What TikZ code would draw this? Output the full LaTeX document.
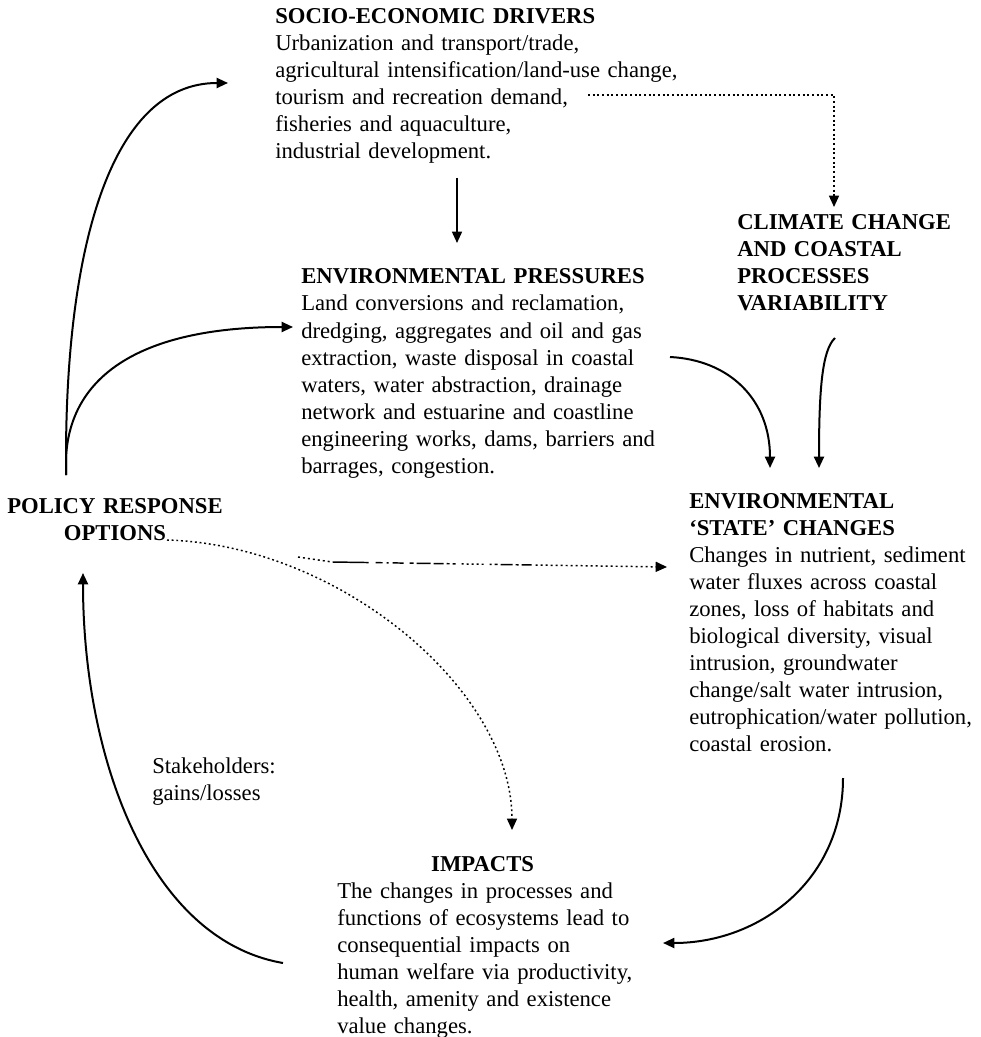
\documentclass[tikz,border=0pt]{standalone}
\usepackage{fontspec}
\setmainfont{Liberation Serif}
\usetikzlibrary{arrows.meta}
\newcommand\blocksize{\fontsize{17pt}{20.25pt}\selectfont}
\begin{document}
\begin{tikzpicture}[x=0.75pt,y=-0.75pt,
  txt/.style={font=\blocksize, inner sep=0pt, anchor=base west, align=left, text width=#1},
  tip/.style={-{Triangle[length=8.5pt,width=7.5pt]}},
  curve/.style={line width=1.5pt, tip},
  straight/.style={line width=1.2pt, tip},
  dotline/.style={line width=1.1pt, dash pattern=on 1.4pt off 2.1pt, tip},
  dashdot/.style={line width=1.1pt, tip, dash pattern=on 1.5pt off 2.25pt on 1.5pt off 2.25pt on 1.5pt off 2.25pt on 1.5pt off 2.25pt on 1.5pt off 2.25pt on 1.5pt off 2.25pt on 1.5pt off 2.25pt
    on 27pt off 5.25pt on 5.25pt off 3pt on 1.5pt off 3pt on 8.25pt off 4.5pt on 3pt off 2.25pt on 10.5pt off 2.25pt on 7.5pt off 2.25pt on 2.25pt off 2.25pt on 2.25pt off 4.5pt
    on 1.5pt off 2.25pt on 1.5pt off 2.25pt on 1.5pt off 2.25pt on 1.5pt off 2.25pt on 1.5pt off 4.5pt on 1.5pt off 2.25pt on 2.25pt off 2.25pt on 9pt off 2.25pt on 2.25pt off 2.25pt on 7.5pt off 3pt
    on 1.5pt off 2.25pt on 1.5pt off 2.25pt on 1.5pt off 2.25pt on 1.5pt off 2.25pt on 1.5pt off 2.25pt on 1.5pt off 2.25pt on 1.5pt off 2.25pt on 1.5pt off 2.25pt on 1.5pt off 2.25pt on 1.5pt off 2.25pt
    on 1.5pt off 2.25pt on 1.5pt off 2.25pt on 1.5pt off 2.25pt on 1.5pt off 2.25pt on 1.5pt off 2.25pt on 1.5pt off 2.25pt on 1.5pt off 2.25pt on 1.5pt off 2.25pt on 1.5pt off 2.25pt on 1.5pt off 2.25pt
    on 1.5pt off 2.25pt on 1.5pt off 2.25pt on 1.5pt off 2.25pt on 1.5pt off 2.25pt on 1.5pt off 2.25pt on 1.5pt off 2.25pt on 1.5pt off 2.25pt on 1.5pt off 2.25pt on 1.5pt off 2.25pt on 1.5pt off 2.25pt
    on 1.5pt off 2.25pt on 1.5pt off 2.25pt on 1.5pt off 2.25pt on 1.5pt off 2.25pt on 1.5pt off 2.25pt on 1.5pt off 2.25pt on 1.5pt off 2.25pt on 1.5pt off 2.25pt on 1.5pt off 2.25pt on 1.5pt off 2.25pt}
]
\fill[white] (0,0) rectangle (980,1037);
\useasboundingbox (0,0) rectangle (980,1037);

% text blocks
\node[txt=320pt] (socio) at (275,24) {\textbf{SOCIO-ECONOMIC DRIVERS}\\
Urbanization and transport/trade,\\
agricultural intensification/land-use change,\\
tourism and recreation demand,\\
fisheries and aquaculture,\\
industrial development.};

\node[txt=285pt] (press) at (301,284) {\textbf{ENVIRONMENTAL PRESSURES}\\
Land conversions and reclamation,\\
\makebox[269pt][s]{dredging, aggregates and oil and gas}\\
\makebox[269pt][s]{extraction, waste disposal in coastal}\\
\makebox[269pt][s]{waters, water abstraction, drainage}\\
\makebox[269pt][s]{network and estuarine and coastline}\\
\makebox[269pt][s]{engineering works, dams, barriers and}\\
barrages, congestion.};

\node[txt=180pt] (climate) at (737,230) {\textbf{CLIMATE CHANGE}\\
\textbf{AND COASTAL}\\
\textbf{PROCESSES}\\
\textbf{VARIABILITY}};

\node[txt=225pt] (state) at (689,508) {\textbf{ENVIRONMENTAL}\\
\textbf{`STATE' CHANGES}\\
Changes in nutrient, sediment\\
water fluxes across coastal\\
zones, loss of habitats and\\
biological diversity, visual\\
intrusion, groundwater\\
change/salt water intrusion,\\
eutrophication/water pollution,\\
coastal erosion.};

\node[font=\blocksize, inner sep=0pt, anchor=base, align=center, text width=170pt] (policy) at (115,513) {\textbf{POLICY RESPONSE}\\
\textbf{OPTIONS}};

\node[txt=120pt] (stake) at (152,773) {Stakeholders:\\gains/losses};

\node[txt=235pt] (impacts) at (337,871) {\makebox[218pt][c]{\textbf{IMPACTS}}\\
The changes in processes and\\
functions of ecosystems lead to\\
consequential impacts on\\
human welfare via productivity,\\
health, amenity and existence\\
value changes.};

% connector ends
\coordinate (pol-up) at (66,475);
\coordinate (socio-in) at (228,83);
\coordinate (press-in) at (293,327);
\coordinate (socio-out) at (457,178);
\coordinate (press-top) at (457,243);
\coordinate (socio-right) at (588,95);
\coordinate (climate-in) at (834,207);
\coordinate (press-out) at (670,357);
\coordinate (state-in1) at (770,468);
\coordinate (climate-out) at (835,338);
\coordinate (state-in2) at (819,468);
\coordinate (state-out) at (843,778);
\coordinate (impacts-in) at (663,943);
\coordinate (impacts-out) at (283,963);
\coordinate (policy-in) at (83,573);
\coordinate (policy-out) at (167,540);
\coordinate (impacts-top) at (512,830);
\coordinate (split) at (298,557);
\coordinate (state-left) at (667,567);

% connectors
\draw[curve] (pol-up) -- (66,458) .. controls (66,250) and (110,83) .. (socio-in);
\draw[curve] (pol-up) -- (66,458) .. controls (70,370) and (150,327) .. (press-in);
\draw[straight] (socio-out) -- (press-top);
\draw[dotline] (socio-right) -| (climate-in);
\draw[curve] (press-out) .. controls (730,360) and (770,400) .. (state-in1);
\draw[curve] (climate-out) .. controls (822,350) and (819,390) .. (state-in2);
\draw[curve] (state-out) .. controls (843,880) and (760,943) .. (impacts-in);
\draw[curve] (impacts-out) .. controls (150,940) and (83,760) .. (policy-in);
\draw[dotline] (policy-out) .. controls (340,545) and (512,690) .. (impacts-top);
\draw[dashdot] (split) -- (332,562) -- (state-left);
\end{tikzpicture}
\end{document}
